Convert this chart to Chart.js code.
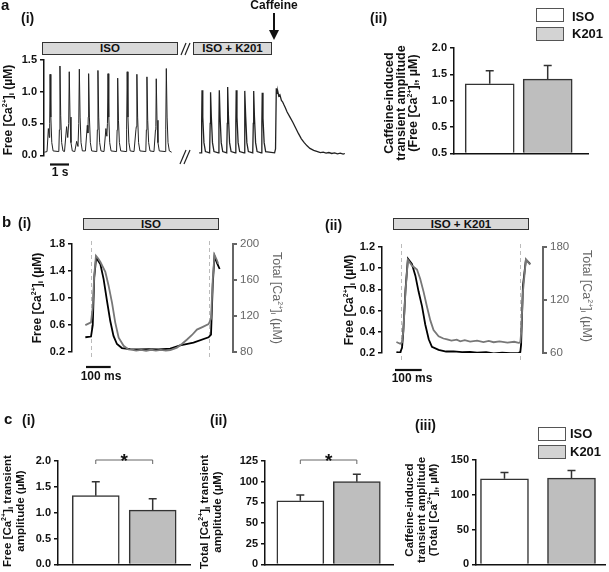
<!DOCTYPE html>
<html>
<head>
<meta charset="utf-8">
<script src="https://cdn.jsdelivr.net/npm/chart.js@4.4.1/dist/chart.umd.min.js"></script>
<style>
body { margin: 0; background: #fff; }
#fig { position: relative; width: 609px; height: 572px; overflow: hidden; font-family: "Liberation Sans", Arial, sans-serif; color: #111; }
#fig canvas { position: absolute; display: block; }
.t { position: absolute; font-weight: bold; white-space: nowrap; }
.v { position: absolute; font-weight: bold; white-space: nowrap; text-align: center; font-size: 12px; line-height: 13px; transform: translate(-50%, -50%) rotate(-90deg); }
.vr { position: absolute; white-space: nowrap; text-align: center; font-size: 12.5px; line-height: 13px; color: #666; transform: translate(-50%, -50%) rotate(90deg); }
.drug { position: absolute; background: #d9d9d9; border: 1.5px solid #333; box-sizing: border-box; font-size: 11.5px; font-weight: bold; text-align: center; line-height: 10px; }
.key { position: absolute; width: 28px; height: 14px; border: 1.5px solid #555; box-sizing: border-box; }
sup { font-size: 7px; vertical-align: 5px; line-height: 0; }
sub { font-size: 8px; vertical-align: -2px; line-height: 0; }
svg { position: absolute; left: 0; top: 0; }
</style>
</head>
<body>
<div id="fig">
  <canvas id="a1" width="350" height="115" style="left:0;top:50px"></canvas>
  <canvas id="a2" width="182" height="133" style="left:410px;top:30px"></canvas>
  <canvas id="b1" width="250" height="128" style="left:20px;top:234px"></canvas>
  <canvas id="b2" width="250" height="126" style="left:330px;top:237px"></canvas>
  <canvas id="c1" width="183" height="134" style="left:10px;top:440px"></canvas>
  <canvas id="c2" width="181" height="134" style="left:215px;top:440px"></canvas>
  <canvas id="c3" width="184" height="134" style="left:425px;top:440px"></canvas>

  <svg width="609" height="572">
    <g stroke="#222" stroke-width="1.2">
      <line x1="181" y1="55" x2="186" y2="43"/><line x1="185" y1="55" x2="190" y2="43"/>
      <line x1="180" y1="164" x2="186" y2="150"/><line x1="184" y1="164" x2="190" y2="150"/>
    </g>
    <line x1="274" y1="13" x2="274" y2="31" stroke="#111" stroke-width="2"/>
    <polygon points="269,30 279,30 274,40" fill="#111"/>
    <g stroke="#111" stroke-width="2.2">
      <line x1="50" y1="164.5" x2="69" y2="164.5"/>
      <line x1="86" y1="367" x2="110.7" y2="367"/>
      <line x1="395" y1="370" x2="421.7" y2="370"/>
    </g>
  </svg>

  <div class="t" style="left:1px;top:-3px;font-size:15px;line-height:15px">a</div>
  <div class="t" style="left:21px;top:11px;font-size:14px;line-height:14px">(i)</div>
  <div class="t" style="left:370px;top:11px;font-size:14px;line-height:14px">(ii)</div>
  <div class="t" style="left:2px;top:214px;font-size:15px;line-height:15px">b</div>
  <div class="t" style="left:18px;top:216px;font-size:14px;line-height:14px">(i)</div>
  <div class="t" style="left:325px;top:218px;font-size:14px;line-height:14px">(ii)</div>
  <div class="t" style="left:4px;top:411px;font-size:15px;line-height:15px">c</div>
  <div class="t" style="left:22px;top:413px;font-size:14px;line-height:14px">(i)</div>
  <div class="t" style="left:210px;top:413px;font-size:14px;line-height:14px">(ii)</div>
  <div class="t" style="left:415px;top:418px;font-size:14px;line-height:14px">(iii)</div>

  <div class="t" style="left:274px;top:0;font-size:12px;line-height:11px;transform:translateX(-50%)">Caffeine</div>
  <div class="drug" style="left:42px;top:42px;width:136px;height:13px">ISO</div>
  <div class="drug" style="left:193px;top:42px;width:79px;height:13px">ISO + K201</div>
  <div class="drug" style="left:83px;top:218px;width:136px;height:12px">ISO</div>
  <div class="drug" style="left:393px;top:218px;width:136px;height:12px">ISO + K201</div>
  <div class="t" style="left:60px;top:167px;font-size:12px;line-height:11px;transform:translateX(-50%)">1 s</div>
  <div class="t" style="left:101px;top:371px;font-size:12px;line-height:11px;transform:translateX(-50%)">100 ms</div>
  <div class="t" style="left:412px;top:373px;font-size:12px;line-height:11px;transform:translateX(-50%)">100 ms</div>

  <div class="key" style="left:536px;top:8px;background:#fff"></div>
  <div class="key" style="left:536px;top:27px;background:#d3d3d3"></div>
  <div class="t" style="left:572px;top:10px;font-size:13px;line-height:13px">ISO</div>
  <div class="t" style="left:572px;top:27px;font-size:13px;line-height:13px">K201</div>
  <div class="key" style="left:538px;top:427px;background:#fff"></div>
  <div class="key" style="left:538px;top:445px;background:#d3d3d3"></div>
  <div class="t" style="left:570px;top:427px;font-size:13px;line-height:13px">ISO</div>
  <div class="t" style="left:570px;top:445px;font-size:13px;line-height:13px">K201</div>

  <div class="v" style="left:8px;top:110px">Free [Ca<sup>2+</sup>]<sub>i</sub> (µM)</div>
  <div class="v" style="left:401px;top:103px;font-size:12.5px;line-height:12px">Caffeine-induced<br>transient amplitude<br>(Free [Ca<sup>2+</sup>]<sub>i</sub>, µM)</div>
  <div class="v" style="left:37px;top:298px">Free [Ca<sup>2+</sup>]<sub>i</sub> (µM)</div>
  <div class="vr" style="left:276px;top:298px">Total [Ca<sup>2+</sup>]<sub>i</sub> (µM)</div>
  <div class="v" style="left:349px;top:300px">Free [Ca<sup>2+</sup>]<sub>i</sub> (µM)</div>
  <div class="vr" style="left:586px;top:296px">Total [Ca<sup>2+</sup>]<sub>i</sub> (µM)</div>
  <div class="v" style="left:14px;top:511px;font-size:11.5px;line-height:13px">Free [Ca<sup>2+</sup>]<sub>i</sub> transient<br>amplitude (µM)</div>
  <div class="v" style="left:211px;top:512px;font-size:11.5px;line-height:13px">Total [Ca<sup>2+</sup>]<sub>i</sub> transient<br>amplitude (µM)</div>
  <div class="v" style="left:421px;top:510px;font-size:11.5px;line-height:12px">Caffeine-induced<br>transient amplitude<br>(Total [Ca<sup>2+</sup>]<sub>i</sub>, µM)</div>
</div>

<script>
Chart.defaults.font.family = '"Liberation Sans", Arial, sans-serif';

// a(i) free Ca trace, [time s, free Ca µM]
const isoTrace = [
  [0.02,0.05],[0.16,0.06],[0.23,0.42],[0.28,0.28],[0.30,0.5],[0.32,1.27],[0.36,0.6],[0.41,0.2],[0.48,0.07],
  [0.78,0.06],[0.81,0.4],[0.84,1.40],[0.88,0.62],[0.93,0.2],[1.0,0.07],
  [1.08,0.06],[1.19,0.45],[1.25,0.28],[1.30,0.5],[1.33,1.31],[1.37,0.6],[1.42,0.2],[1.49,0.07],
  [1.62,0.06],[1.72,0.22],[1.79,0.14],[1.83,0.5],[1.86,1.35],[1.90,0.6],[1.95,0.2],[2.02,0.07],
  [2.18,0.07],[2.28,0.47],[2.31,0.35],[2.33,0.6],[2.35,1.28],[2.39,0.6],[2.44,0.2],[2.51,0.07],
  [2.78,0.06],[2.81,0.4],[2.84,1.33],[2.88,0.6],[2.93,0.2],[3.0,0.07],
  [3.16,0.06],[3.26,0.42],[3.31,0.3],[3.34,0.5],[3.37,1.28],[3.41,0.6],[3.46,0.2],[3.53,0.07],
  [3.82,0.06],[3.85,0.4],[3.88,1.21],[3.92,0.55],[3.97,0.2],[4.04,0.07],
  [4.32,0.06],[4.35,0.4],[4.38,1.31],[4.42,0.6],[4.47,0.2],[4.54,0.07],
  [4.74,0.06],[4.84,0.40],[4.86,0.45],[4.89,1.27],[4.93,0.6],[4.98,0.2],[5.05,0.07],
  [5.36,0.06],[5.39,0.4],[5.42,1.23],[5.46,0.55],[5.51,0.2],[5.58,0.07],
  [5.79,0.06],[5.87,0.40],[5.89,0.45],[5.91,1.20],[5.95,0.55],[6.0,0.2],[6.07,0.07],
  [6.38,0.06],[6.41,0.4],[6.44,1.36],[6.48,0.6],[6.53,0.2],[6.60,0.07],[6.72,0.05]
];
const k201Trace = [
  [8.17,0.04],[8.27,0.04],[8.30,0.5],[8.32,1.02],[8.36,0.6],[8.42,0.2],[8.50,0.06],
  [8.72,0.04],[8.75,0.5],[8.77,0.99],[8.81,0.6],[8.87,0.2],[8.95,0.06],
  [9.18,0.04],[9.21,0.5],[9.23,1.02],[9.27,0.6],[9.33,0.2],[9.41,0.06],
  [9.62,0.04],[9.65,0.5],[9.67,1.07],[9.71,0.62],[9.77,0.2],[9.85,0.06],
  [10.07,0.04],[10.10,0.5],[10.12,1.02],[10.16,0.6],[10.22,0.2],[10.30,0.06],
  [10.53,0.04],[10.56,0.5],[10.58,1.01],[10.62,0.6],[10.68,0.2],[10.76,0.06],
  [10.99,0.04],[11.02,0.5],[11.04,1.01],[11.08,0.6],[11.14,0.2],[11.22,0.06],
  [11.44,0.04],[11.47,0.5],[11.49,0.98],[11.53,0.58],[11.59,0.2],[11.67,0.06],
  [12.14,0.04],[12.19,0.1],[12.23,1.05],[12.27,0.97],[12.31,1.0],[12.36,0.93],[12.42,0.95],[12.5,0.86],
  [12.56,0.84],[12.62,0.80],[12.7,0.75],[12.8,0.68],[12.95,0.6],[13.1,0.52],[13.25,0.43],[13.4,0.34],
  [13.55,0.26],[13.7,0.2],[13.85,0.15],[14.0,0.11],[14.2,0.08],[14.4,0.06],[14.55,0.045],[14.7,0.05],
  [14.85,0.035],[15.0,0.045],[15.15,0.03],[15.3,0.04],[15.45,0.025],[15.6,0.035],[15.75,0.02],[15.84,0.03]
];

// b single transients, [time ms, free µM] and [time ms, total µM]
const bIsoFree = [[54,0.42],[77,0.43],[84,0.6],[90,1.3],[98,1.6],[106,1.55],[115,1.5],[128,1.28],[142,0.95],
  [155,0.66],[168,0.44],[182,0.32],[202,0.26],[236,0.245],[270,0.24],[310,0.245],[350,0.24],[398,0.25],
  [438,0.3],[492,0.34],[553,0.42],[563,0.46],[570,1.2],[577,1.62],[587,1.52],[598,1.43]];
const bIsoTotal = [[54,110],[77,113],[84,130],[90,165],[97,187],[106,184],[115,180],[135,169],[148,154],
  [162,135],[175,113],[189,96],[209,87],[229,83],[245,82.6],[260,81.6],[280,82.5],[300,81.5],[320,82.6],
  [340,81.7],[360,82.4],[380,81.6],[398,82.2],[412,83.5],[425,85],[445,89],[466,94],[486,99],[506,105],
  [530,108],[553,111],[563,117],[570,160],[577,188],[587,182],[592,178]];
const bK201Free = [[54,0.21],[68,0.205],[75,0.25],[79,0.37],[88,0.8],[97,1.09],[112,1.04],[125,0.93],[137,0.78],
  [150,0.64],[162,0.47],[175,0.33],[187,0.26],[212,0.23],[240,0.215],[268,0.216],[300,0.21],[330,0.212],
  [356,0.205],[390,0.21],[418,0.198],[450,0.205],[480,0.2],[512,0.203],[518,0.21],[521,0.28],[528,0.84],
  [539,1.08],[555,1.04]];
const bK201Total = [[54,72.5],[68,70.5],[75,72],[80,85],[88,130],[97,165.5],[112,159],[131,154.5],[143,144],
  [156,129],[168,113],[181,97],[193,86],[212,79],[230,76.5],[244,75.5],[260,74.2],[280,75.3],[293,73.4],
  [310,74.6],[330,72.9],[356,74],[380,72.5],[400,73.8],[418,72.3],[440,73.2],[470,71.9],[495,72.8],
  [512,71.6],[518,72],[521,82],[528,130],[539,166],[555,160]];
const stimIso = [77, 556];
const stimK201 = [72, 518];

// bar panels, order follows groups
const groups = ['ISO', 'K201'];
const barFill = ['#ffffff', '#bebebe'];
const caffFreeMean = [1.32, 1.41];
const caffFreeErr = [0.25, 0.26];
const freeAmpMean = [1.33, 1.05];
const freeAmpErr = [0.27, 0.22];
const totalAmpMean = [77, 100];
const totalAmpErr = [7, 9];
const caffTotalMean = [123, 124];
const caffTotalErr = [9, 11];

const pts = arr => arr.map(p => ({ x: p[0], y: p[1] }));
const oneDec = v => v.toFixed(1);

function leftAxis(min, max, step, width, fmt) {
  return {
    position: 'left', min: min, max: max,
    ticks: { stepSize: step, color: '#111', font: { weight: 'bold', size: 11 }, padding: 3, callback: fmt },
    grid: { drawOnChartArea: false, drawTicks: true, tickLength: 4, color: '#111', lineWidth: 1.5 },
    border: { display: true, color: '#111', width: 1.5 },
    afterFit: s => { s.width = width; }
  };
}

function rightAxis(min, max, step, width) {
  return {
    position: 'right', min: min, max: max,
    ticks: { stepSize: step, color: '#666', font: { size: 11.5 }, padding: 3 },
    grid: { drawOnChartArea: false, drawTicks: true, tickLength: 4, color: '#666', lineWidth: 2 },
    border: { display: true, color: '#666', width: 2 },
    afterFit: s => { s.width = width; }
  };
}

const errorBars = {
  id: 'errorBars',
  afterDatasetsDraw(chart) {
    const { ctx, scales } = chart;
    ctx.save();
    ctx.strokeStyle = '#333';
    ctx.lineWidth = 1.5;
    chart.data.datasets.forEach(ds => {
      ds.data.forEach((p, j) => {
        const x = scales.x.getPixelForValue(p.x);
        const y0 = scales.y.getPixelForValue(p.y);
        const y1 = scales.y.getPixelForValue(p.y + ds.errors[j]);
        ctx.beginPath();
        ctx.moveTo(x, y0); ctx.lineTo(x, y1);
        ctx.moveTo(x - 4, y1); ctx.lineTo(x + 4, y1);
        ctx.stroke();
      });
    });
    ctx.restore();
  }
};

const sigBracket = {
  id: 'sigBracket',
  afterDraw(chart, args, opts) {
    if (!opts.show) return;
    const { ctx, scales: { x }, chartArea } = chart;
    const x1 = x.getPixelForValue(1), x2 = x.getPixelForValue(2);
    const y = chartArea.top - 1;
    ctx.save();
    ctx.strokeStyle = '#666';
    ctx.lineWidth = 1;
    ctx.beginPath();
    ctx.moveTo(x1, y + 4); ctx.lineTo(x1, y); ctx.lineTo(x2, y); ctx.lineTo(x2, y + 4);
    ctx.stroke();
    ctx.fillStyle = '#111';
    ctx.font = 'bold 19px "Liberation Sans", Arial';
    ctx.textAlign = 'center';
    ctx.textBaseline = 'alphabetic';
    ctx.fillText('*', (x1 + x2) / 2, y + 7);
    ctx.restore();
  }
};

const stimLines = {
  id: 'stimLines',
  beforeDatasetsDraw(chart, args, opts) {
    if (!opts.times) return;
    const { ctx, scales: { x }, chartArea } = chart;
    ctx.save();
    ctx.strokeStyle = '#bbb';
    ctx.lineWidth = 1;
    ctx.setLineDash([4, 3]);
    opts.times.forEach(t => {
      const px = Math.round(x.getPixelForValue(t)) + 0.5;
      ctx.beginPath();
      ctx.moveTo(px, chartArea.top - 3);
      ctx.lineTo(px, chartArea.bottom + 7);
      ctx.stroke();
    });
    ctx.restore();
  }
};

const base = { responsive: false, animation: false, events: [] };

// a(i) trace
new Chart(document.getElementById('a1'), {
  type: 'line',
  data: {
    datasets: [
      { data: pts(isoTrace), borderColor: '#222', borderWidth: 1, pointRadius: 0, tension: 0 },
      { data: pts(k201Trace), borderColor: '#222', borderWidth: 1.3, pointRadius: 0, tension: 0 }
    ]
  },
  options: {
    ...base,
    layout: { padding: { top: 9, bottom: 7, left: 0, right: 4 } },
    plugins: { legend: { display: false }, tooltip: { enabled: false } },
    scales: {
      x: { type: 'linear', min: 0, max: 15.9, display: false },
      y: leftAxis(0, 1.5, 0.5, 44, oneDec)
    }
  }
});

function tracePanel(id, free, total, yL, yR, xMax, pad, times) {
  new Chart(document.getElementById(id), {
    type: 'line',
    data: {
      datasets: [
        { data: pts(total), yAxisID: 'y2', borderColor: '#777', borderWidth: 1.8, pointRadius: 0, tension: 0 },
        { data: pts(free), yAxisID: 'y', borderColor: '#000', borderWidth: 1.8, pointRadius: 0, tension: 0 }
      ]
    },
    options: {
      ...base,
      layout: { padding: pad },
      plugins: { legend: { display: false }, tooltip: { enabled: false }, stimLines: { times: times } },
      scales: {
        x: { type: 'linear', min: 0, max: xMax, display: false },
        y: leftAxis(yL[0], yL[1], yL[2], 52, oneDec),
        y2: rightAxis(yR[0], yR[1], yR[2], 32)
      }
    },
    plugins: [stimLines]
  });
}

tracePanel('b1', bIsoFree, bIsoTotal, [0.2, 1.8, 0.4], [80, 200, 40], 652,
  { top: 10, bottom: 8, left: 0, right: 5 }, stimIso);
tracePanel('b2', bK201Free, bK201Total, [0.2, 1.2, 0.2], [60, 180, 60], 603,
  { top: 10, bottom: 8, left: 0, right: 5 }, stimK201);

function barPanel(id, means, errs, yMax, step, xRange, thick, leftW, pad, fmt, bracket) {
  new Chart(document.getElementById(id), {
    type: 'bar',
    data: {
      datasets: groups.map((g, i) => ({
        label: g,
        data: [{ x: i + 1, y: means[i] }],
        errors: [errs[i]],
        backgroundColor: barFill[i],
        borderColor: '#333',
        borderWidth: 1.5,
        barThickness: thick,
        grouped: false
      }))
    },
    options: {
      ...base,
      layout: { padding: pad },
      plugins: { legend: { display: false }, tooltip: { enabled: false }, sigBracket: { show: bracket } },
      scales: {
        x: {
          type: 'linear', min: xRange[0], max: xRange[1], offset: false,
          ticks: { display: false }, grid: { display: false, drawTicks: false },
          border: { display: true, color: '#111', width: 1.5 },
          afterFit: s => { s.height = 0; }
        },
        y: leftAxis(0, yMax, step, leftW, fmt)
      }
    },
    plugins: [errorBars, sigBracket]
  });
}

barPanel('a2', caffFreeMean, caffFreeErr, 2, 0.5, [0.384, 2.695], 49, 44,
  { top: 18, bottom: 8, left: 0, right: 4 }, v => (v === 0 ? '0.5' : v.toFixed(1)), false);
barPanel('c1', freeAmpMean, freeAmpErr, 2, 0.5, [0.336, 2.656], 47, 48,
  { top: 21, bottom: 8, left: 0, right: 3 }, oneDec, true);
barPanel('c2', totalAmpMean, totalAmpErr, 125, 25, [0.375, 2.64], 47, 50,
  { top: 21, bottom: 8, left: 0, right: 3 }, v => v, true);
barPanel('c3', caffTotalMean, caffTotalErr, 150, 50, [0.575, 2.5], 48, 51,
  { top: 20, bottom: 9, left: 0, right: 4 }, v => v, false);
</script>
</body>
</html>
